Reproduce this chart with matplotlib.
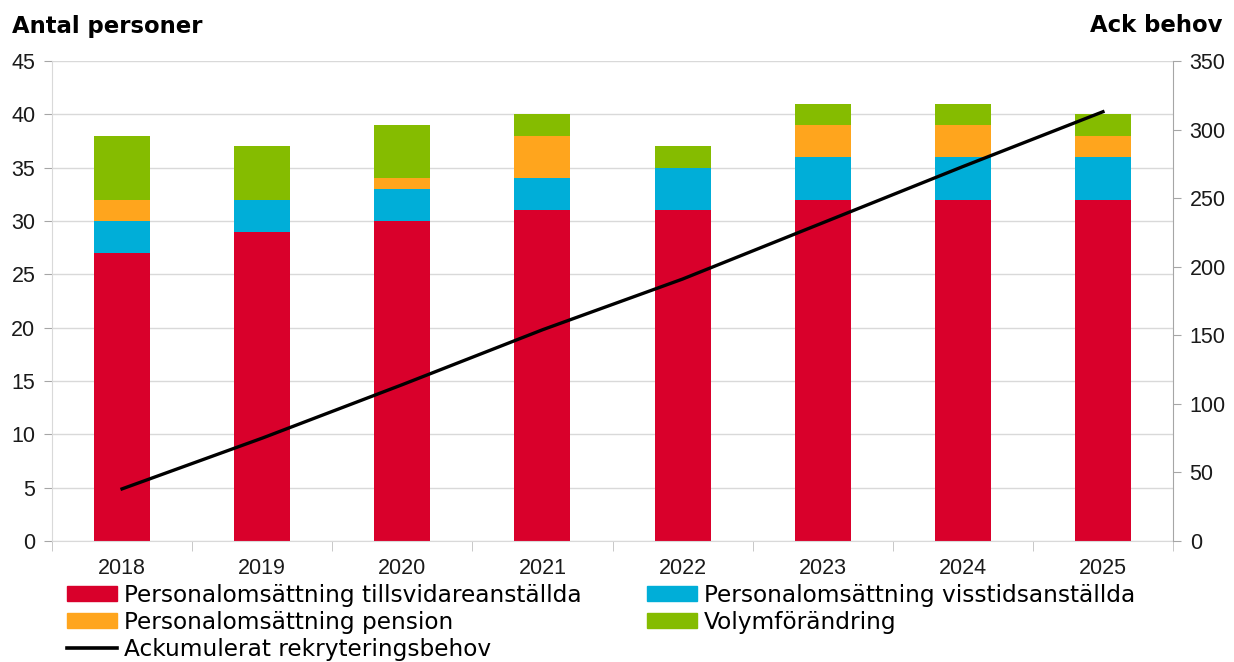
import matplotlib.pyplot as plt
from matplotlib.patches import Patch
from matplotlib.lines import Line2D
import numpy as np

plt.rcParams['font.family'] = ['Liberation Sans', 'DejaVu Sans']

years = ['2018', '2019', '2020', '2021', '2022', '2023', '2024', '2025']
tillsvidare = [27, 29, 30, 31, 31, 32, 32, 32]
visstid = [3, 3, 3, 3, 4, 4, 4, 4]
pension = [2, 0, 1, 4, 0, 3, 3, 2]
volym = [6, 5, 5, 2, 2, 2, 2, 2]
ack_behov = [38, 75, 114, 154, 191, 232, 273, 313]

labels = ['Personalomsättning tillsvidareanställda',
          'Personalomsättning visstidsanställda',
          'Personalomsättning pension',
          'Volymförändring',
          'Ackumulerat rekryteringsbehov']
colors = ['#D9002B', '#00AED8', '#FFA51D', '#85BC00']

fig = plt.figure(figsize=(12.34, 6.62), dpi=100)
ax = fig.add_axes([52 / 1234, 121 / 662, (1173 - 52) / 1234, 480 / 662])

x = np.arange(len(years))
w = 0.4
bottom = np.zeros(len(years))
for vals, c in zip([tillsvidare, visstid, pension, volym], colors):
    ax.bar(x, vals, w, bottom=bottom, color=c, zorder=2)
    bottom += np.array(vals)

ax.set_xlim(-0.5, len(years) - 0.5)
ax.set_ylim(0, 45)
ax.set_yticks(range(0, 46, 5))
ax.yaxis.grid(True, color='#D9D9D9', linewidth=1, zorder=0)
ax.set_axisbelow(True)
ax.set_xticks(x)
ax.set_xticklabels(years)
ax.set_xticks(np.arange(-0.5, len(years), 1), minor=True)
ax.tick_params(axis='x', which='major', length=0, labelsize=15.5, pad=12, labelcolor='#1a1a1a')
ax.tick_params(axis='x', which='minor', length=7, color='#BFBFBF')
ax.tick_params(axis='y', length=6, color='#A6A6A6', labelsize=15.5, pad=6, labelcolor='#1a1a1a')
for s in ['top', 'right']:
    ax.spines[s].set_visible(False)
ax.spines['left'].set_color('#D9D9D9')
ax.spines['bottom'].set_color('#D9D9D9')

ax2 = ax.twinx()
ax2.plot(x, ack_behov, color='black', linewidth=2.4, zorder=3)
ax2.set_ylim(0, 350)
ax2.set_yticks(range(0, 351, 50))
ax2.tick_params(axis='y', length=6, color='#A6A6A6', labelsize=15.5, pad=6, labelcolor='#1a1a1a')
for s in ['top', 'left', 'bottom']:
    ax2.spines[s].set_visible(False)
ax2.spines['right'].set_color('#A6A6A6')

fig.text(12 / 1234, 1 - 26 / 662, 'Antal personer', fontsize=16.4, fontweight='bold',
         family='DejaVu Sans', va='center', ha='left')
fig.text(1222 / 1234, 1 - 26 / 662, 'Ack behov', fontsize=16.4, fontweight='bold',
         family='DejaVu Sans', va='center', ha='right')

handles = [Patch(color=colors[0]), Patch(color=colors[2]),
           Line2D([], [], color='black', linewidth=2.6),
           Patch(color=colors[1]), Patch(color=colors[3])]
hl = [labels[0], labels[2], labels[4], labels[1], labels[3]]
fig.legend(handles, hl, ncol=2, loc='upper left', bbox_to_anchor=(67 / 1234, 1 - 584 / 662),
           frameon=False, prop={'family': 'DejaVu Sans', 'size': 16.75},
           handlelength=2.15, handleheight=0.6,
           handletextpad=0.3, labelspacing=0.17, columnspacing=2.8, borderpad=0,
           borderaxespad=0)

fig.savefig('out.png', dpi=100)
